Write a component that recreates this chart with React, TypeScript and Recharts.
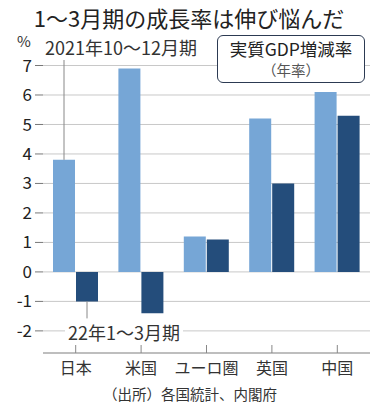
import { BarChart, Bar, XAxis, YAxis, CartesianGrid, LabelList } from 'recharts';

const categories = ['日本', '米国', 'ユーロ圏', '英国', '中国'];
const q4_2021 = [3.8, 6.9, 1.2, 5.2, 6.1];
const q1_2022 = [-1.0, -1.4, 1.1, 3.0, 5.3];
const yTicks = [-2, -1, 0, 1, 2, 3, 4, 5, 6, 7];

const LIGHT = '#76a6d6';
const DARK = '#244d7b';
const FONT = '"Noto Sans CJK JP", "Noto Sans", sans-serif';

const data = categories.map((name, i) => ({ name, q4: q4_2021[i], q1: q1_2022[i] }));

function CatTick(props: any) {
  const { x, y, payload } = props;
  return (
    <g>
      <line x1={x} x2={x} y1={y - 8} y2={y} stroke="#888" />
      <text x={x} y={y + 21} textAnchor="middle" fontSize={16} fill="#333" fontFamily={FONT}>
        {payload.value}
      </text>
    </g>
  );
}

// leader line from the 日本 light bar up to the 2021 note
function TopLeader(props: any) {
  const { x, y, width, index } = props;
  if (index !== 0) return null;
  const cx = x + width / 2;
  return <line x1={cx} x2={cx} y1={60} y2={y} stroke="#888" />;
}

// leader line from the 日本 dark bar down to the 22年 note
function BottomLeader(props: any) {
  const { x, y, width, height, index } = props;
  if (index !== 0) return null;
  const cx = x + width / 2;
  const bottom = Math.max(y, y + height);
  return <line x1={cx} x2={cx} y1={bottom} y2={bottom + 17} stroke="#888" />;
}

export default function App() {
  return (
    <div style={{ position: 'absolute', left: 0, top: 0, width: 376, height: 408, background: '#fff', fontFamily: FONT }}>
      <BarChart
        width={376}
        height={408}
        data={data}
        margin={{ top: 65.5, right: 6, bottom: 25, left: 0 }}
        barSize={22}
        barGap={1}
      >
        <CartesianGrid vertical={false} stroke="#c8c8c8" />
        <XAxis
          dataKey="name"
          height={30}
          tickLine={false}
          tickSize={0}
          tickMargin={0}
          axisLine={{ stroke: '#999' }}
          tick={<CatTick />}
          interval={0}
        />
        <YAxis
          type="number"
          domain={[-2.75, 7]}
          ticks={yTicks}
          allowDataOverflow
          width={43}
          axisLine={false}
          tickSize={8}
          tickMargin={3}
          tickLine={{ stroke: '#777' }}
          tick={{ fontSize: 17, fill: '#222', fontFamily: FONT }}
        />
        <Bar dataKey="q4" fill={LIGHT} isAnimationActive={false}>
          <LabelList dataKey="q4" content={<TopLeader />} />
        </Bar>
        <Bar dataKey="q1" fill={DARK} isAnimationActive={false}>
          <LabelList dataKey="q1" content={<BottomLeader />} />
        </Bar>
      </BarChart>

      <div style={{ position: 'absolute', left: 0, width: 378, top: 3, textAlign: 'center', fontSize: 22, color: '#222', lineHeight: '28px' }}>
        1〜3月期の成長率は伸び悩んだ
      </div>
      <div style={{ position: 'absolute', left: 17, top: 30, fontSize: 15, color: '#333' }}>%</div>
      <div style={{ position: 'absolute', left: 45, top: 36, fontSize: 18, color: '#333', lineHeight: '22px', background: '#fff', whiteSpace: 'nowrap' }}>
        2021年10〜12月期
      </div>
      <div style={{ position: 'absolute', left: 65, top: 321, fontSize: 18, color: '#333', lineHeight: '22px', background: '#fff', padding: '0 3px', whiteSpace: 'nowrap' }}>
        22年1〜3月期
      </div>
      <div
        style={{
          position: 'absolute',
          left: 217,
          top: 35,
          width: 146,
          height: 46,
          border: '1.5px solid #2c3a52',
          borderRadius: 6,
          background: '#fff',
          textAlign: 'center',
        }}
      >
        <div style={{ fontSize: 17.5, color: '#222', lineHeight: '22px', marginTop: 2 }}>実質GDP増減率</div>
        <div style={{ fontSize: 14.5, color: '#555', lineHeight: '20px' }}>（年率）</div>
      </div>
      <div style={{ position: 'absolute', left: 103, top: 384, fontSize: 14.5, color: '#333', lineHeight: '20px', whiteSpace: 'nowrap' }}>
        （出所）各国統計、内閣府
      </div>
    </div>
  );
}
